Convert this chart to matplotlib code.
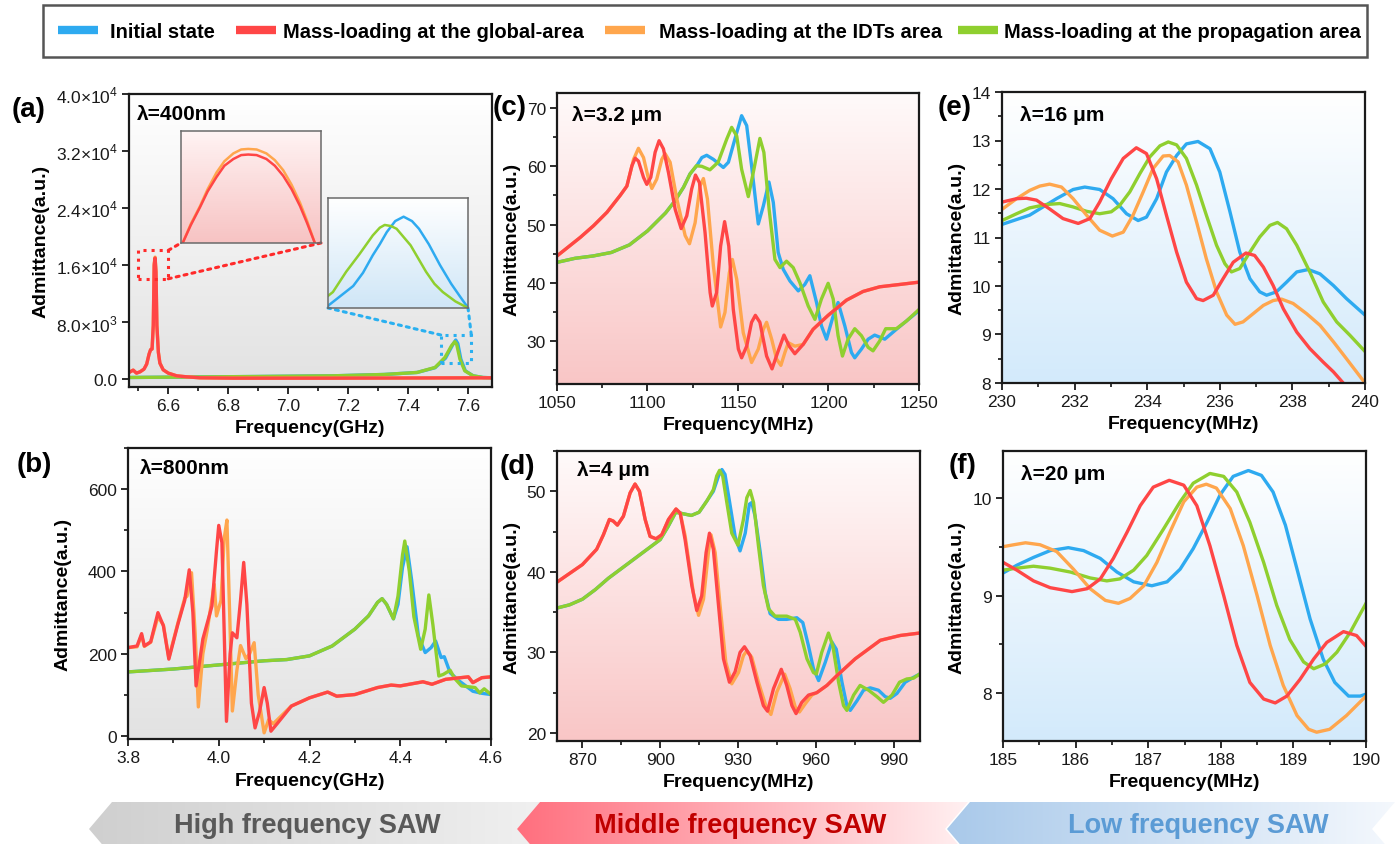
import numpy as np
import matplotlib
matplotlib.use('Agg')
import matplotlib.pyplot as plt
from matplotlib.colors import LinearSegmentedColormap
from matplotlib.patches import Rectangle, Polygon, ConnectionPatch
from matplotlib.ticker import MultipleLocator, FixedLocator, FuncFormatter
from matplotlib.lines import Line2D

plt.rcParams['font.family'] = ['Liberation Sans', 'DejaVu Sans']
plt.rcParams['mathtext.fontset'] = 'custom'
plt.rcParams['mathtext.rm'] = 'Liberation Sans'

# ---------------- data ----------------
series_names = ["Initial state", "Mass-loading at the global-area",
                "Mass-loading at the IDTs area", "Mass-loading at the propagation area"]
C_BLUE, C_RED, C_ORANGE, C_GREEN = '#2eaaf0', '#ff4646', '#ffa64d', '#8fcf2f'

# (a) lambda = 400 nm (GHz, a.u.)
a_red_x = [6.469, 6.483, 6.494, 6.506, 6.519, 6.528, 6.536, 6.541, 6.546, 6.550, 6.553, 6.556,
           6.559, 6.562, 6.567, 6.572, 6.583, 6.600, 6.628, 6.661, 6.706, 6.817, 7.150, 7.680]
a_red_y = [939, 1268, 845, 1033, 1408, 2113, 3521, 4131, 4225, 7512, 15962, 16995,
           15023, 7512, 3756, 2254, 1315, 845, 469, 329, 188, 141, 141, 188]
a_orange_x = a_red_x
a_orange_y = [939, 1268, 845, 1033, 1408, 2113, 3521, 4131, 4225, 7600, 16200, 17116,
              15200, 7600, 3756, 2254, 1315, 845, 469, 329, 188, 141, 141, 188]
a_green_x = [6.469, 6.90, 7.15, 7.32, 7.43, 7.49, 7.523, 7.545, 7.556, 7.562, 7.573, 7.589, 7.617, 7.650, 7.680]
a_green_y = [235, 375, 470, 657, 939, 1643, 3050, 4695, 5258, 4900, 2817, 1174, 470, 235, 188]
a_blue_x = [6.469, 6.90, 7.15, 7.32, 7.43, 7.49, 7.525, 7.548, 7.559, 7.566, 7.576, 7.591, 7.617, 7.650, 7.680]
a_blue_y = [235, 375, 470, 657, 939, 1600, 2950, 4750, 5493, 5000, 2817, 1174, 470, 235, 188]
# inset 1 (zoom on the 6.55 GHz peak)
in1_x = [6.55306, 6.55335, 6.55368, 6.55395, 6.55427, 6.55455, 6.55487, 6.55515, 6.55540,
         6.55570, 6.55605, 6.55635, 6.55665, 6.55695, 6.55725, 6.55750, 6.55778]
in1_orange = [15100, 15508, 15892, 16252, 16612, 16852, 17020, 17104, 17116,
              17104, 17020, 16876, 16660, 16348, 15964, 15580, 15100]
in1_red = [15100, 15484, 15868, 16204, 16516, 16756, 16900, 16984, 16996,
           16984, 16900, 16756, 16540, 16252, 15892, 15532, 15100]
# inset 2 (zoom on the 7.56 GHz peak)
in2_blue_x = [7.5400, 7.5432, 7.5472, 7.5500, 7.5528, 7.5548, 7.5568, 7.5592, 7.5616,
              7.5640, 7.5660, 7.5688, 7.5720, 7.5752, 7.5776, 7.5796]
in2_blue_y = [2963, 3213, 3526, 3902, 4402, 4715, 5060, 5373, 5498,
              5373, 5154, 4715, 4121, 3589, 3244, 2963]
in2_green_x = [7.5400, 7.5414, 7.5452, 7.5490, 7.5528, 7.5548, 7.5562, 7.5580, 7.5596,
               7.5636, 7.5680, 7.5704, 7.5728, 7.5764, 7.5800]
in2_green_y = [3244, 3354, 3933, 4434, 4966, 5185, 5263, 5232, 5154,
               4684, 3933, 3589, 3354, 3088, 2900]

# (b) lambda = 800 nm
b_green_x = [3.80, 3.90, 4.00, 4.10, 4.15, 4.20, 4.25, 4.30, 4.33, 4.35, 4.36, 4.37, 4.385, 4.395,
             4.405, 4.41, 4.42, 4.43, 4.445, 4.455, 4.463, 4.472, 4.485, 4.495, 4.51, 4.52, 4.535,
             4.55, 4.565, 4.575, 4.585, 4.60]
b_green_y = [156, 163, 173, 183, 186, 195, 219, 260, 292, 325, 334, 320, 285, 340,
             440, 474, 400, 290, 211, 260, 343, 270, 146, 150, 160, 140, 122,
             120, 118, 105, 115, 101]
b_blue_x = [3.80, 3.90, 4.00, 4.10, 4.15, 4.20, 4.25, 4.30, 4.33, 4.35, 4.36, 4.37, 4.385, 4.395,
            4.405, 4.415, 4.425, 4.44, 4.455, 4.468, 4.478, 4.49, 4.497, 4.51, 4.53, 4.56, 4.58, 4.60]
b_blue_y = [156, 163, 173, 183, 186, 195, 219, 260, 292, 325, 334, 320, 285, 320,
            410, 460, 380, 243, 203, 215, 231, 191, 193, 154, 134, 109, 104, 101]
b_red_x = [3.80, 3.82, 3.83, 3.836, 3.85, 3.866, 3.878, 3.89, 3.91, 3.925, 3.935, 3.943, 3.95,
           3.965, 3.985, 3.995, 4.00, 4.007, 4.017, 4.025, 4.03, 4.04, 4.048, 4.055, 4.062, 4.072,
           4.08, 4.09, 4.10, 4.107, 4.115, 4.13, 4.16, 4.20, 4.24, 4.26, 4.30, 4.35, 4.38, 4.40,
           4.45, 4.47, 4.50, 4.55, 4.56, 4.58, 4.60]
b_red_y = [215, 219, 249, 219, 229, 300, 268, 187, 272, 330, 404, 300, 122,
           236, 316, 450, 512, 470, 36, 200, 251, 239, 330, 422, 320, 80,
           20, 60, 118, 80, 12, 32, 73, 93, 107, 97, 101, 118, 124, 122,
           132, 126, 138, 144, 130, 142, 144]
b_orange_x = [3.80, 3.82, 3.83, 3.836, 3.85, 3.866, 3.878, 3.89, 3.91, 3.925, 3.93, 3.94, 3.948,
              3.955, 3.965, 3.975, 3.99, 3.995, 4.005, 4.012, 4.018, 4.024, 4.03, 4.04, 4.048, 4.06,
              4.068, 4.078, 4.087, 4.10, 4.11, 4.12, 4.16, 4.20, 4.24, 4.26, 4.30, 4.35, 4.38, 4.40,
              4.45, 4.47, 4.50, 4.55, 4.56, 4.58, 4.60]
b_orange_y = [215, 217, 245, 218, 228, 290, 270, 190, 275, 335, 340, 397, 250,
              71, 200, 260, 369, 292, 330, 480, 525, 300, 61, 160, 220, 188,
              200, 227, 100, 8, 40, 30, 73, 93, 107, 97, 101, 118, 124, 122,
              132, 126, 138, 144, 130, 142, 144]

# (c) lambda = 3.2 um (MHz)
c_red_x = [1050, 1062.9, 1070.2, 1077.6, 1084.9, 1088.6, 1091.4, 1093.2, 1095, 1097.8, 1099.6,
           1101.8, 1104.2, 1106.4, 1108.8, 1111.6, 1115.3, 1118.6, 1121.7, 1124.4, 1126.5, 1128.7,
           1131.8, 1134.6, 1135.8, 1138.2, 1140.4, 1142.6, 1144.9, 1147.4, 1150.2, 1152, 1154.8,
           1157.5, 1159.6, 1162.1, 1165.8, 1168.8, 1171.9, 1175.4, 1178.3, 1181.4, 1186, 1191.5,
           1199.8, 1209.9, 1219.1, 1228.3, 1239.3, 1250]
c_red_y = [44.6, 47.8, 49.8, 52.1, 55.0, 56.6, 60.1, 61.4, 60.9, 58.1, 56.9,
           58.1, 62.4, 64.4, 63.0, 58.9, 52.6, 49.3, 51.5, 56.1, 58.5, 57.2,
           48.6, 38.3, 36.0, 38.3, 46.3, 50.5, 46.3, 35.4, 28.6, 27.1, 29.1,
           33.2, 34.4, 33.2, 27.4, 25.2, 28.0, 31.0, 29.1, 27.8, 29.4, 32.0,
           34.4, 37.0, 38.5, 39.3, 39.7, 40.1]
c_orange_x = [1050, 1062.9, 1070.2, 1077.6, 1084.9, 1088.6, 1092.3, 1095, 1097.8, 1100.6, 1102.4,
              1105.1, 1107.9, 1109.7, 1112.5, 1116.2, 1120.8, 1123.2, 1126.3, 1129, 1130.9, 1133.1,
              1136.4, 1140.4, 1142.8, 1145.2, 1146.9, 1149.3, 1152.9, 1157.5, 1161.2, 1164, 1165.8,
              1168.6, 1171.3, 1173.7, 1175.9, 1177.8, 1181.4, 1186, 1191.5, 1199.8, 1209.9, 1219.1,
              1228.3, 1239.3, 1250]
c_orange_y = [44.6, 47.8, 49.8, 52.1, 55.0, 56.6, 61.2, 63.1, 61.5, 57.8, 56.2,
              57.8, 61.2, 62.2, 60.7, 54.4, 48.1, 46.7, 50.3, 56.6, 57.9, 54.4,
              42.9, 32.4, 34.9, 41.7, 44.0, 40.6, 31.4, 26.3, 28.6, 32.0, 33.2,
              30.3, 26.9, 25.8, 28.0, 29.7, 29.1, 29.4, 32.0, 34.4, 37.0, 38.5,
              39.3, 39.7, 40.1]
c_green_x = [1050, 1060, 1070, 1080, 1090, 1100, 1110, 1115, 1119.9, 1123.5, 1127, 1130, 1134.5,
             1139, 1143.8, 1146.5, 1149.3, 1152, 1155.7, 1158.8, 1162.1, 1164.3, 1167.2, 1170.4,
             1173.2, 1176.8, 1180.5, 1184.2, 1188.8, 1192.5, 1196.1, 1199.8, 1202.6, 1205.3,
             1207.7, 1210.8, 1214.5, 1218.2, 1221.9, 1224.6, 1228.3, 1231.6, 1237.5, 1243, 1250]
c_green_y = [43.5, 44.2, 44.6, 45.2, 46.5, 48.9, 52.0, 54.0, 56.4, 58.7, 60.1, 60.0, 59.4,
             60.7, 64.7, 66.7, 65.2, 59.5, 54.8, 59.5, 64.8, 62.4, 52.6, 44.0,
             42.6, 43.7, 42.6, 40.0, 36.0, 33.7, 37.2, 39.9, 37.2, 30.9,
             27.4, 30.3, 32.1, 30.9, 28.9, 28.3, 30.0, 32.1, 32.1, 33.4, 35.4]
c_blue_x = [1050, 1060, 1070, 1080, 1090, 1100, 1110, 1115, 1119.9, 1123.5, 1127.2, 1130, 1132.7,
            1136.4, 1141.9, 1144.7, 1148.3, 1152, 1154.8, 1157.5, 1161.2, 1164, 1167.1, 1169.5,
            1172.2, 1175, 1178.7, 1183.3, 1186.9, 1189.7, 1193.4, 1196.1, 1198.9, 1202.6, 1205.3,
            1209, 1212.7, 1214.5, 1218.2, 1221.9, 1225.5, 1231.1, 1237.5, 1250]
c_blue_y = [43.5, 44.2, 44.6, 45.2, 46.5, 48.9, 52.0, 54.0, 56.4, 58.7, 60.1, 61.5, 61.9,
            61.2, 59.8, 60.7, 64.7, 68.7, 67.0, 60.1, 50.1, 53.2, 57.3, 53.8,
            45.2, 42.3, 40.3, 38.6, 39.7, 41.2, 36.6, 32.6, 30.3, 34.3, 36.6,
            32.6, 28.0, 27.1, 28.6, 30.3, 31.0, 30.3, 32.0, 35.2]

# (d) lambda = 4 um (MHz)
d_red_x = [860.1, 870, 875.5, 878.1, 880.4, 881.9, 883.5, 885.8, 888.4, 890.3, 892, 894.2, 896.1,
           898.4, 900.6, 903.2, 906.1, 907.7, 909.6, 912.2, 914.1, 916, 917.7, 919, 920.5, 922.5,
           924.4, 926.7, 928.9, 930.8, 932.5, 934.7, 937.3, 939.8, 941.4, 943.7, 946.7, 948.8,
           950.8, 952.4, 954.6, 957.2, 960.4, 964.3, 968.1, 975.2, 984.9, 992.6, 1000]
d_red_y = [38.7, 40.9, 42.8, 44.6, 46.5, 46.3, 45.8, 46.9, 49.8, 50.9, 50.0, 46.5, 44.4,
           44.1, 44.6, 46.5, 47.8, 47.3, 44.0, 38.3, 35.2, 37.0, 42.4, 44.8, 42.8, 35.8,
           29.2, 26.3, 27.6, 30.0, 30.7, 29.6, 26.3, 23.4, 22.7, 25.5, 27.9, 25.9,
           23.4, 22.4, 23.8, 24.7, 25.0, 25.9, 27.1, 29.2, 31.5, 32.1, 32.4]
d_orange_x = [860.1, 870, 875.5, 878.1, 880.4, 881.9, 883.5, 885.8, 888.4, 890.3, 892, 894.2,
              896.1, 898.4, 900.6, 903.2, 906.1, 907.7, 909.6, 912.8, 914.8, 916.7, 918.6, 919.6,
              921.2, 923.1, 925.3, 927.6, 930.2, 932.1, 933.4, 935.3, 937.9, 940.9, 942.7, 945,
              948, 950.1, 952.1, 953.7, 955.9, 958.5, 960.4, 964.3, 968.1, 975.2, 984.9, 992.6, 1000]
d_orange_y = [38.7, 40.9, 42.8, 44.6, 46.5, 46.3, 45.8, 46.9, 49.8, 50.9, 50.0, 46.5,
              44.4, 44.1, 44.6, 46.5, 47.8, 47.3, 44.5, 37.4, 34.6, 36.6, 42.4, 44.6,
              42.4, 35.8, 28.8, 26.1, 27.5, 29.6, 30.2, 29.4, 26.3, 23.2, 22.3, 25.1,
              27.3, 25.5, 23.2, 22.6, 23.6, 24.7, 25.0, 25.9, 27.1, 29.2, 31.5, 32.1, 32.4]
d_green_x = [860.1, 865, 870, 875, 880, 885, 890, 895, 900, 903, 906, 909, 912, 915, 918, 920.5,
             921.8, 922.9, 924.1, 925.7, 927.6, 930, 932.1, 933.4, 934.7, 936, 937.9, 939.8, 941.8,
             944.3, 948.8, 952.1, 954, 956.6, 959.1, 960.2, 962.3, 964.9, 966.6, 968.8, 970.7,
             972, 974.6, 977.1, 980.4, 983.6, 986.1, 989.4, 992.3, 995.1, 997.7, 1000]
d_green_y = [35.5, 35.9, 36.6, 37.8, 39.2, 40.4, 41.6, 42.8, 44.0, 45.6, 47.4, 47.2, 47.0, 47.4,
             48.8, 50.2, 51.9, 52.6, 51.9, 48.6, 44.8, 43.3, 46.5, 49.2, 50.1, 48.6, 43.2, 38.3,
             35.4, 34.5, 34.5, 34.1, 32.5, 29.2, 27.5, 27.3, 30.0, 32.4, 30.8, 26.3, 23.4,
             22.8, 24.7, 25.9, 25.3, 24.5, 23.8, 24.7, 26.3, 26.7, 26.8, 27.3]
d_blue_x = [860.1, 865, 870, 875, 880, 885, 890, 895, 900, 903, 906, 909, 912, 915, 918, 920.5,
            922.5, 923.8, 925, 926.7, 928.9, 930.8, 932.8, 934.4, 935.3, 936.6, 938.6, 940.5,
            942.4, 945.6, 948.8, 952.7, 955, 957.2, 959.1, 961.1, 963.7, 966.2, 967.9, 970.1,
            972, 973.3, 975.9, 978.4, 981, 984.2, 986.8, 988.7, 991.3, 994.5, 997.7, 1000]
d_blue_y = [35.5, 35.9, 36.6, 37.8, 39.2, 40.4, 41.6, 42.8, 44.0, 45.6, 47.4, 47.2, 47.0, 47.4,
            48.8, 50.0, 51.9, 52.7, 52.1, 48.8, 44.4, 42.6, 44.8, 48.4, 48.6, 46.9, 42.4, 37.4,
            34.8, 34.1, 34.1, 34.3, 33.7, 30.8, 28.0, 26.5, 28.8, 31.3, 30.4, 26.3,
            23.4, 22.8, 24.0, 25.3, 25.6, 25.3, 24.5, 24.3, 24.9, 26.3, 26.9, 27.3]

# (e) lambda = 16 um (MHz)
e_blue_x = [230, 230.76, 231.5, 231.96, 232.28, 232.69, 233.06, 233.43, 233.75, 233.98, 234.26,
            234.53, 234.81, 235.08, 235.4, 235.73, 236.0, 236.28, 236.55, 236.83, 237.1, 237.29,
            237.56, 237.84, 238.12, 238.44, 238.76, 239.13, 239.49, 240]
e_blue_y = [11.27, 11.46, 11.80, 11.99, 12.04, 11.99, 11.80, 11.49, 11.35, 11.42, 11.80,
            12.35, 12.69, 12.93, 12.98, 12.83, 12.35, 11.53, 10.70, 10.15, 9.88, 9.81,
            9.88, 10.08, 10.29, 10.34, 10.25, 10.01, 9.74, 9.40]
e_green_x = [230, 230.4, 230.76, 231.22, 231.59, 231.96, 232.33, 232.69, 233.01, 233.24, 233.52,
             233.8, 234.07, 234.35, 234.58, 234.81, 235.08, 235.36, 235.63, 235.91, 236.14, 236.32,
             236.55, 236.83, 237.1, 237.38, 237.59, 237.84, 238.12, 238.48, 238.85, 239.22, 239.59, 240]
e_green_y = [11.35, 11.49, 11.61, 11.68, 11.70, 11.63, 11.54, 11.49, 11.53, 11.66, 11.94,
             12.32, 12.66, 12.89, 12.97, 12.91, 12.63, 12.08, 11.46, 10.84, 10.46, 10.29,
             10.36, 10.70, 11.01, 11.25, 11.31, 11.18, 10.84, 10.29, 9.67, 9.26, 8.98, 8.65]
e_orange_x = [230, 230.4, 230.76, 231.04, 231.31, 231.64, 231.96, 232.33, 232.69, 233.04, 233.34,
              233.61, 233.89, 234.16, 234.44, 234.62, 234.85, 235.08, 235.36, 235.63, 235.91,
              236.19, 236.42, 236.64, 236.92, 237.2, 237.47, 237.7, 238.02, 238.39, 238.76,
              239.13, 239.49, 240]
e_orange_y = [11.58, 11.80, 11.97, 12.06, 12.10, 12.04, 11.80, 11.46, 11.15, 11.03, 11.11,
              11.46, 11.94, 12.42, 12.68, 12.69, 12.56, 12.08, 11.32, 10.56, 9.88,
              9.40, 9.21, 9.26, 9.43, 9.60, 9.70, 9.73, 9.64, 9.43, 9.19,
              8.85, 8.50, 8.00]
e_red_x = [230, 230.4, 230.67, 230.95, 231.31, 231.68, 232.1, 232.42, 232.69, 233.01, 233.34,
           233.7, 233.98, 234.26, 234.53, 234.81, 235.08, 235.36, 235.54, 235.82, 236.09, 236.37,
           236.72, 236.96, 237.2, 237.47, 237.75, 238.12, 238.48, 238.85, 239.13, 239.4]
e_red_y = [11.73, 11.80, 11.81, 11.77, 11.59, 11.39, 11.29, 11.39, 11.73, 12.21, 12.63,
           12.85, 12.73, 12.21, 11.46, 10.70, 10.08, 9.74, 9.70, 9.81, 10.15, 10.49,
           10.68, 10.63, 10.39, 10.01, 9.53, 9.05, 8.71, 8.43, 8.23, 8.00]

# (f) lambda = 20 um (MHz)
f_blue_x = [185, 185.19, 185.42, 185.65, 185.9, 186.11, 186.34, 186.57, 186.8, 187.05, 187.26,
            187.44, 187.62, 187.81, 187.99, 188.17, 188.38, 188.56, 188.72, 188.89, 189.05,
            189.23, 189.41, 189.57, 189.76, 189.92, 190]
f_blue_y = [9.23, 9.31, 9.39, 9.46, 9.49, 9.46, 9.38, 9.24, 9.14, 9.10, 9.14,
            9.27, 9.48, 9.75, 10.03, 10.22, 10.28, 10.23, 10.06, 9.72, 9.27,
            8.76, 8.35, 8.11, 7.97, 7.97, 7.99]
f_green_x = [185, 185.19, 185.42, 185.65, 185.93, 186.2, 186.43, 186.61, 186.8, 186.98, 187.21,
             187.44, 187.62, 187.85, 188.04, 188.22, 188.4, 188.59, 188.77, 188.95, 189.14,
             189.28, 189.44, 189.6, 189.78, 190]
f_green_y = [9.26, 9.28, 9.30, 9.28, 9.24, 9.18, 9.15, 9.17, 9.26, 9.41, 9.68,
             9.96, 10.15, 10.25, 10.22, 10.06, 9.75, 9.34, 8.90, 8.55, 8.32,
             8.25, 8.30, 8.42, 8.62, 8.92]
f_orange_x = [185, 185.15, 185.31, 185.51, 185.74, 185.97, 186.2, 186.41, 186.59, 186.75, 186.94,
              187.12, 187.3, 187.49, 187.67, 187.8, 187.94, 188.13, 188.31, 188.5, 188.68,
              188.86, 189.05, 189.21, 189.32, 189.5, 189.73, 190]
f_orange_y = [9.50, 9.52, 9.54, 9.52, 9.45, 9.27, 9.07, 8.95, 8.92, 8.97, 9.10,
              9.34, 9.65, 9.96, 10.11, 10.14, 10.10, 9.89, 9.51, 9.00, 8.49,
              8.08, 7.77, 7.63, 7.60, 7.63, 7.77, 7.97]
f_red_x = [185, 185.19, 185.42, 185.65, 185.95, 186.16, 186.34, 186.52, 186.71, 186.89, 187.07,
           187.29, 187.49, 187.67, 187.85, 188.04, 188.22, 188.4, 188.59, 188.75, 188.91,
           189.09, 189.28, 189.46, 189.69, 189.87, 190]
f_red_y = [9.34, 9.26, 9.15, 9.08, 9.04, 9.07, 9.17, 9.38, 9.65, 9.92, 10.11,
           10.18, 10.13, 9.92, 9.51, 9.00, 8.49, 8.11, 7.94, 7.90, 7.97,
           8.14, 8.35, 8.52, 8.63, 8.59, 8.48]

panel_letters = ['(a)', '(b)', '(c)', '(d)', '(e)', '(f)']
lambda_labels = ['λ=400nm', 'λ=800nm', 'λ=3.2 μm', 'λ=4 μm', 'λ=16 μm', 'λ=20 μm']
banner_labels = ['High frequency SAW', 'Middle frequency SAW', 'Low frequency SAW']

# ---------------- figure ----------------
W, H = 1395, 845
fig = plt.figure(figsize=(W / 100, H / 100), dpi=100)


def rect(l, r, t, b):
    return [l / W, 1 - b / H, (r - l) / W, (b - t) / H]


def gradient_bg(pos, top, bottom, z=0):
    bg = fig.add_axes(pos, zorder=z)
    cmap = LinearSegmentedColormap.from_list('g', [bottom, top])
    bg.imshow(np.linspace(0, 1, 256).reshape(-1, 1), cmap=cmap, aspect='auto',
              origin='lower', extent=[0, 1, 0, 1])
    bg.set_axis_off()
    return bg


GRAY = ('#ffffff', '#e2e2e2')
PINK = ('#fffafa', '#f9c6c6')
BLUE = ('#ffffff', '#d3eafb')
LW = 2.4


def make_axes(pos, colors):
    gradient_bg(pos, colors[0], colors[1], z=0)
    ax = fig.add_axes(pos, zorder=1)
    ax.patch.set_alpha(0)
    for s in ax.spines.values():
        s.set_linewidth(1.6)
        s.set_color('#1a1a1a')
    ax.tick_params(which='major', direction='out', length=5, width=1.3, labelsize=12.5,
                   colors='#1a1a1a', pad=3)
    ax.tick_params(which='minor', direction='out', length=3, width=1.1)
    return ax


def finish(ax, xlim, ylim, xmaj, xmin, ymaj, ymin, xlabel, ylab_x, xlab_y, lam, lam_xy):
    ax.set_xlim(*xlim)
    ax.set_ylim(*ylim)
    ax.xaxis.set_major_locator(MultipleLocator(xmaj))
    ax.xaxis.set_minor_locator(MultipleLocator(xmin))
    if ymaj is not None:
        ax.yaxis.set_major_locator(MultipleLocator(ymaj))
        ax.yaxis.set_minor_locator(MultipleLocator(ymin))
    ax.set_xlabel(xlabel, fontsize=14, fontweight='bold')
    ax.set_ylabel('Admittance(a.u.)', fontsize=14, fontweight='bold')
    ax.yaxis.set_label_coords(ylab_x, 0.5)
    ax.xaxis.set_label_coords(0.5, xlab_y)
    ax.text(lam_xy[0], lam_xy[1], lam, transform=ax.transAxes, fontsize=15,
            fontweight='bold', va='top', ha='left')


def draw4(ax, data, lw=LW):
    for (x, y), c in zip(data, [C_BLUE, C_GREEN, C_ORANGE, C_RED]):
        ax.plot(x, y, color=c, lw=lw, solid_joinstyle='round')


# ---- (a)
axa = make_axes(rect(129, 492, 95, 388), GRAY)
draw4(axa, [(a_blue_x, a_blue_y), (a_green_x, a_green_y),
            (a_orange_x, a_orange_y), (a_red_x, a_red_y)])
finish(axa, (6.469, 7.68), (-1100, 40000), 0.2, 0.1, None, None, 'Frequency(GHz)',
       -0.22, -0.11, lambda_labels[0], (0.022, 0.965))
a_ticks = [0, 8000, 16000, 24000, 32000, 40000]
axa.yaxis.set_major_locator(FixedLocator(a_ticks))


def sci_fmt(v, pos):
    if v == 0:
        return '0.0'
    e = int(np.floor(np.log10(v)))
    m = v / 10 ** e
    return r'%.1f$\times$10$^{%d}$' % (m, e)


axa.yaxis.set_major_formatter(FuncFormatter(sci_fmt))

# dotted zoom boxes
axa.add_patch(Rectangle((6.498, 14080), 0.102, 3990, fill=False, ls=':', lw=2.2,
                        edgecolor='#ff2a2a', zorder=5))
axa.add_patch(Rectangle((7.509, 2250), 0.102, 3950, fill=False, ls=':', lw=2.2,
                        edgecolor='#2ab0f0', zorder=5))

# insets
pos1 = rect(181, 321, 132, 244)
gradient_bg(pos1, '#fff3f3', '#f7c3c3', z=2)
in1 = fig.add_axes(pos1, zorder=3)
in1.patch.set_alpha(0)
in1.plot(in1_x, in1_orange, color=C_ORANGE, lw=1.8)
in1.plot(in1_x, in1_red, color=C_RED, lw=1.8)
in1.set_xlim(6.553, 6.558)
in1.set_ylim(15100, 17500)
pos2 = rect(328, 468, 199, 309)
gradient_bg(pos2, '#ffffff', '#cfe6f7', z=2)
in2 = fig.add_axes(pos2, zorder=3)
in2.patch.set_alpha(0)
in2.plot(in2_blue_x, in2_blue_y, color=C_BLUE, lw=1.8)
in2.plot(in2_green_x, in2_green_y, color=C_GREEN, lw=1.8)
in2.set_xlim(7.54, 7.58)
in2.set_ylim(2900, 6030)
for ia in (in1, in2):
    ia.set_xticks([])
    ia.set_yticks([])
    for s in ia.spines.values():
        s.set_color('#6a6a6a')
        s.set_linewidth(1.1)

for (xy, ax2xy) in [((6.6, 18070), (0, 0)), ((6.6, 14080), (1, 0))]:
    cp = ConnectionPatch(xyA=xy, coordsA=axa.transData, xyB=ax2xy, coordsB=in1.transAxes,
                         ls=':', lw=2.2, color='#ff2a2a', zorder=2.5)
    fig.add_artist(cp)
for (xy, ax2xy) in [((7.509, 6200), (0, 0)), ((7.611, 6200), (1, 0))]:
    cp = ConnectionPatch(xyA=xy, coordsA=axa.transData, xyB=ax2xy, coordsB=in2.transAxes,
                         ls=':', lw=2.2, color='#2ab0f0', zorder=2.5)
    fig.add_artist(cp)

# ---- (b)
axb = make_axes(rect(128, 491, 449, 740), GRAY)
draw4(axb, [(b_blue_x, b_blue_y), (b_green_x, b_green_y),
            (b_orange_x, b_orange_y), (b_red_x, b_red_y)])
finish(axb, (3.8, 4.6), (-7, 700), 0.2, 0.1, 200, 100, 'Frequency(GHz)',
       -0.155, -0.115, lambda_labels[1], (0.033, 0.965))

# ---- (c)
axc = make_axes(rect(557, 919, 94, 385), PINK)
draw4(axc, [(c_blue_x, c_blue_y), (c_green_x, c_green_y),
            (c_orange_x, c_orange_y), (c_red_x, c_red_y)])
finish(axc, (1050, 1250), (22.6, 72.6), 50, 25, 10, 5, 'Frequency(MHz)',
       -0.10, -0.11, lambda_labels[2], (0.041, 0.96))

# ---- (d)
axd = make_axes(rect(557, 920, 452, 742), PINK)
draw4(axd, [(d_blue_x, d_blue_y), (d_green_x, d_green_y),
            (d_orange_x, d_orange_y), (d_red_x, d_red_y)])
finish(axd, (860.2, 1000.2), (19, 55), 30, 15, 10, 5, 'Frequency(MHz)',
       -0.10, -0.11, lambda_labels[3], (0.055, 0.97))

# ---- (e)
axe = make_axes(rect(1002, 1365, 93, 384), BLUE)
draw4(axe, [(e_blue_x, e_blue_y), (e_green_x, e_green_y),
            (e_orange_x, e_orange_y), (e_red_x, e_red_y)])
finish(axe, (230, 240), (8, 14), 2, 1, 1, 0.5, 'Frequency(MHz)',
       -0.10, -0.11, lambda_labels[4], (0.05, 0.955))

# ---- (f)
axf = make_axes(rect(1003, 1366, 452, 742), BLUE)
draw4(axf, [(f_blue_x, f_blue_y), (f_green_x, f_green_y),
            (f_orange_x, f_orange_y), (f_red_x, f_red_y)])
finish(axf, (185, 190), (7.51, 10.48), 1, 0.5, 1, 0.5, 'Frequency(MHz)',
       -0.102, -0.11, lambda_labels[5], (0.05, 0.955))

# ---------------- overlay: letters, legend, banners ----------------
ov = fig.add_axes([0, 0, 1, 1], zorder=10)
ov.set_xlim(0, W)
ov.set_ylim(H, 0)
ov.set_axis_off()
ov.patch.set_alpha(0)

letter_pos = [(29, 110), (34, 465), (510, 108), (517, 467), (955, 108), (963, 466)]
for lab, (x, y) in zip(panel_letters, letter_pos):
    ov.text(x, y, lab, fontsize=20, fontweight='bold', ha='center', va='center')

# legend box
ov.add_patch(Rectangle((43, 6), 1324, 52, fill=False, edgecolor='#555555', lw=1.8))
leg_colors = [C_BLUE, C_RED, C_ORANGE, C_GREEN]
leg_patch_x = [58, 236, 605, 958]
leg_text_x = [110, 283, 659, 1004]
for name, c, px, tx in zip(series_names, leg_colors, leg_patch_x, leg_text_x):
    ov.add_line(Line2D([px, px + 40], [31, 31], color=c, lw=6, solid_capstyle='butt'))
    ov.text(tx, 32, name, fontsize=14.5, fontweight='bold', ha='left', va='center')


def banner(pts, c_left, c_right, label, tcolor, tx):
    poly = Polygon(pts, closed=True, facecolor='none', edgecolor='none')
    ov.add_patch(poly)
    xs = [p[0] for p in pts]
    ys = [p[1] for p in pts]
    cmap = LinearSegmentedColormap.from_list('b', [c_left, c_right])
    im = ov.imshow(np.linspace(0, 1, 256).reshape(1, -1), cmap=cmap, aspect='auto',
                   extent=[min(xs), max(xs), max(ys), min(ys)], zorder=1)
    im.set_clip_path(poly)
    ov.text(tx, 826, label, fontsize=19.5, fontweight='bold', color=tcolor,
            ha='center', va='center', zorder=3)


banner([(89, 830), (112, 803), (540, 803), (517, 830), (540, 857), (112, 857)],
       '#cfcfcf', '#f0f0f0', banner_labels[0], '#595959', 307)
banner([(517, 830), (540, 803), (968, 803), (945, 830), (968, 857), (540, 857)],
       '#ff6f7e', '#fff0f1', banner_labels[1], '#c00000', 740)
banner([(947, 830), (970, 803), (1395, 803), (1372, 830), (1395, 857), (970, 857)],
       '#a9c9ea', '#f4f8fd', banner_labels[2], '#5b9bd5', 1198)
ov.set_xlim(0, W)
ov.set_ylim(H, 0)

fig.savefig('out.png', dpi=100)
